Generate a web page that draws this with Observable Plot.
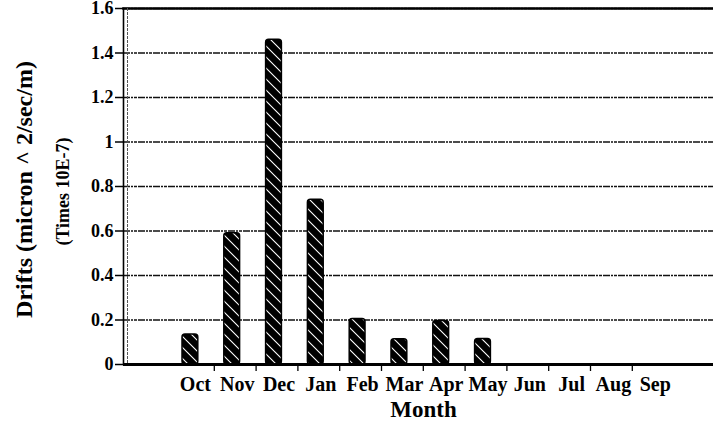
<!DOCTYPE html>
<html>
<head>
<meta charset="utf-8">
<script src="https://cdn.jsdelivr.net/npm/d3@7"></script>
<script src="https://cdn.jsdelivr.net/npm/@observablehq/plot@0.6"></script>
<style>
  html, body { margin: 0; padding: 0; background: #fff; }
  svg { display: block; }
</style>
</head>
<body>
<div id="chart"></div>
<script>
const months = ["Oct", "Nov", "Dec", "Jan", "Feb", "Mar", "Apr", "May", "Jun", "Jul", "Aug", "Sep"];
const drifts = [0.135, 0.59, 1.46, 0.74, 0.205, 0.113, 0.195, 0.115, 0, 0, 0, 0];
const yTicks = [0, 0.2, 0.4, 0.6, 0.8, 1, 1.2, 1.4, 1.6];
const yTickLabels = ["0", "0.2", "0.4", "0.6", "0.8", "1", "1.2", "1.4", "1.6"];
const xTitle = "Month";
const yTitle = "Drifts (micron ^ 2/sec/m)";
const ySubTitle = "(Times 10E-7)";

const data = months.map((m, i) => ({month: m, value: drifts[i]}));
const font = "'Liberation Serif', 'Times New Roman', serif";

const chart = Plot.plot({
  width: 713,
  height: 421,
  marginLeft: 123,
  marginRight: 0,
  marginTop: 8,
  marginBottom: 57,
  style: {fontFamily: font, fontWeight: "bold", background: "#fff", color: "#000"},
  x: {type: "band", domain: months, range: [172, 673.6], paddingInner: 0, paddingOuter: 0, align: 0.5, round: false},
  y: {domain: [0, 1.6]},
  marks: [
    Plot.ruleY(yTicks.slice(1), {stroke: "#111", strokeWidth: 1.3, strokeDasharray: "7,1,2,1,3,1"}),
    Plot.frame({anchor: "top", stroke: "#000", strokeWidth: 2.6}),
    Plot.frame({anchor: "left", stroke: "#000", strokeWidth: 1.6}),
    Plot.frame({anchor: "left", stroke: "#555", strokeWidth: 1, strokeDasharray: "2,2", dx: 4}),
    Plot.barY(data, {x: "month", y: "value", fill: "url(#hatch)", stroke: "#000", strokeWidth: 1.5, insetLeft: 10, insetRight: 16, rx: 3}),
    Plot.ruleY([0], {stroke: "#000", strokeWidth: 2.8}),
    Plot.axisY({ticks: yTicks, tickFormat: (d) => yTickLabels[yTicks.indexOf(d)], tickSize: 8, tickPadding: 2, fontSize: 18, fontWeight: "bold", label: null, strokeWidth: 1.5}),
    Plot.axisX({ticks: months.slice(0, 11), tickSize: 7, dx: 20.9, text: null, label: null, strokeWidth: 1.3}),
    Plot.axisX({tickSize: 0, tickPadding: 12, dx: 2, fontSize: 20, fontWeight: "bold", label: null}),
    Plot.text([xTitle], {frameAnchor: "bottom", dx: 5, dy: 52, lineAnchor: "bottom", fontSize: 23, fontWeight: "bold"}),
    Plot.text([yTitle], {frameAnchor: "left", textAnchor: "middle", dx: -99, dy: 3, rotate: -90, fontSize: 24, fontWeight: "bold"}),
    Plot.text([ySubTitle], {frameAnchor: "left", textAnchor: "middle", dx: -60, dy: 5, rotate: -90, fontSize: 18, fontWeight: "bold"})
  ]
});

const svg = d3.select(chart);
const defs = svg.insert("defs", ":first-child");
const pat = defs.append("pattern")
  .attr("id", "hatch")
  .attr("patternUnits", "userSpaceOnUse")
  .attr("width", 11)
  .attr("height", 11);
pat.append("rect").attr("width", 11).attr("height", 11).attr("fill", "#000");
pat.append("path")
  .attr("d", "M0,0 L11,11 M-5.5,5.5 L5.5,16.5 M5.5,-5.5 L16.5,5.5")
  .attr("stroke", "#fff")
  .attr("stroke-width", 1.1);

document.getElementById("chart").appendChild(chart);
</script>
</body>
</html>
